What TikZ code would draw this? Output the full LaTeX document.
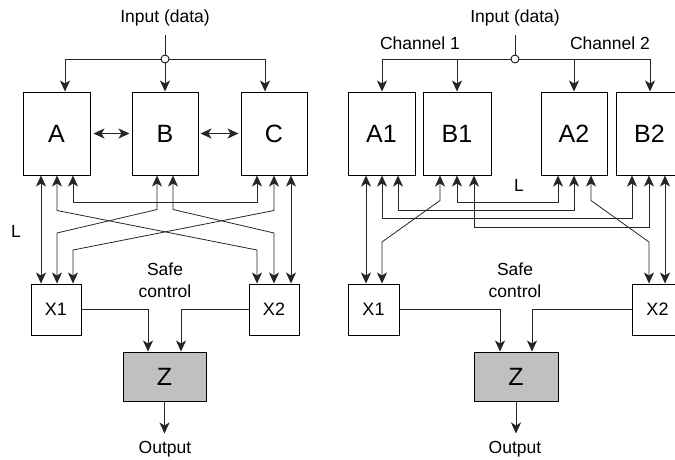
\documentclass[tikz,border=0pt]{standalone}
\usepackage{fontspec}
\setmainfont{Liberation Sans}
\usetikzlibrary{arrows.meta}
\definecolor{zgray}{RGB}{192,192,192}
\begin{document}
\begin{tikzpicture}[x=1pt,y=-1pt,
  wire/.style={line width=0.8pt, draw=black!85},
  onearrow/.style={-{Stealth[length=11pt,width=10pt,inset=3pt]}},
  twoarrow/.style={{Stealth[length=11pt,width=10pt,inset=3pt]}-{Stealth[length=11pt,width=10pt,inset=3pt]}},
  unit/.style={draw, line width=1pt, minimum width=67pt, minimum height=83pt, inner sep=0pt, font=\fontsize{25}{30}\selectfont},
  voter/.style={draw, line width=1pt, minimum width=51pt, minimum height=51pt, inner sep=0pt, font=\fontsize{18}{21}\selectfont},
  outbox/.style={draw, line width=1pt, fill=zgray, minimum width=83pt, minimum height=49pt, inner sep=0pt, font=\fontsize{25}{30}\selectfont},
  txt/.style={inner sep=0pt, font=\fontsize{17.5}{22}\selectfont, align=center},
  junction/.style={circle, draw, fill=white, line width=0.8pt, minimum size=8pt, inner sep=0pt}
]
\useasboundingbox (0,0) rectangle (675,459);

% ---------- left: triple redundancy ----------
\node[txt] (inL) at (165,18) {Input (data)};
\coordinate (srcL) at (165,35);
\node[unit] (A) at (56.5,133.5) {A};
\node[unit, minimum width=66pt] (B) at (165,133.5) {B};
\node[unit, minimum width=66pt] (C) at (274,133.5) {C};
\node[voter, minimum width=50pt] (X1) at (56,309.5) {X1};
\node[voter, minimum width=50pt] (X2) at (274,309.5) {X2};
\node[outbox] (Z) at (164.5,376.5) {Z};
\node[txt] (LL) at (16,231) {L};
\node[txt] (scL) at (165,280) {Safe\\control};
\node[txt] (outL) at (165,449) {Output};

\draw[wire] (srcL) -- (165,59);
\draw[wire,onearrow] (165,59) -| ([xshift=8.5pt]A.north);
\draw[wire,onearrow] (165,59) -- (B.north);
\draw[wire,onearrow] (165,59) -| ([xshift=-9pt]C.north);
\node[junction] (jL) at (165,59) {};

\draw[wire,twoarrow] ([xshift=3pt]A.east) -- ([xshift=-2pt]B.west);
\draw[wire,twoarrow] ([xshift=2pt]B.east) -- ([xshift=-2pt]C.west);

\draw[wire,twoarrow] ([xshift=-15.5pt]A.south) -- ([xshift=-15.5pt]A.south |- X1.north);
\draw[wire,twoarrow] ([xshift=16.5pt]A.south) -- ++(0,27) -| ([xshift=-17pt]C.south);
\draw[wire,twoarrow] ([xshift=0.5pt]A.south) -- ++(0,35) -- (257,250) -- ([xshift=-17pt]X2.north);
\draw[wire,twoarrow] ([xshift=-8pt]B.south) -- ++(0,34) -- (57,233) -- ([xshift=1pt]X1.north);
\draw[wire,twoarrow] ([xshift=8pt]B.south) -- ++(0,34) -- (274,233) -- (X2.north);
\draw[wire,twoarrow] (C.south) -- ++(0,35) -- (73,250) -- ([xshift=17pt]X1.north);
\draw[wire,twoarrow] ([xshift=17pt]C.south) -- ([xshift=17pt]X2.north);

\draw[wire,onearrow] (X1.east) -| ([xshift=-16.5pt]Z.north);
\draw[wire,onearrow] (X2.west) -| ([xshift=16.5pt]Z.north);
\draw[wire,onearrow] (Z.south) -- ++(0,32);

% ---------- right: two channels ----------
\node[txt] (inR) at (515,18) {Input (data)};
\node[txt] (ch1) at (420,43) {Channel 1};
\node[txt] (ch2) at (610,43) {Channel 2};
\coordinate (srcR) at (515,35);
\node[unit] (A1) at (381.5,133.5) {A1};
\node[unit, minimum width=68pt] (B1) at (457,133.5) {B1};
\node[unit, minimum width=66pt] (A2) at (574,133.5) {A2};
\node[unit] (B2) at (649.5,133.5) {B2};
\node[voter] (Y1) at (373.5,309.5) {X1};
\node[voter] (Y2) at (657.5,309.5) {X2};
\node[outbox, minimum width=84pt] (Z2) at (516,376.5) {Z};
\node[txt] (LR) at (519,185) {L};
\node[txt] (scR) at (515,280) {Safe\\control};
\node[txt] (outR) at (515,449) {Output};

\draw[wire] (srcR) -- (515,59);
\draw[wire,onearrow] (515,59) -| ([xshift=0.5pt]A1.north);
\draw[wire,onearrow] (515,59) -| (B1.north);
\draw[wire,onearrow] (515,59) -| (A2.north);
\draw[wire,onearrow] (515,59) -| ([xshift=0.5pt]B2.north);
\node[junction] (jR) at (515,59) {};

\draw[wire,twoarrow] ([xshift=-15.5pt]A1.south) -- ([xshift=-15.5pt]A1.south |- Y1.north);
\draw[wire,twoarrow] ([xshift=0.5pt]A1.south) -- ++(0,43) -| ([xshift=-17.5pt]B2.south);
\draw[wire,twoarrow] ([xshift=16.5pt]A1.south) -- ++(0,35) -| (A2.south);
\draw[wire,twoarrow] ([xshift=-17pt]B1.south) -- ++(0,25) -- (382,242) -- ([xshift=8.5pt]Y1.north);
\draw[wire,twoarrow] (B1.south) -- ++(0,27) -| ([xshift=-16pt]A2.south);
\draw[wire,twoarrow] ([xshift=17pt]B1.south) -- ++(0,52) -| ([xshift=-0.5pt]B2.south);
\draw[wire,twoarrow] ([xshift=17pt]A2.south) -- ++(0,25) -- (649,242) -- ([xshift=-8.5pt]Y2.north);
\draw[wire,twoarrow] ([xshift=15.5pt]B2.south) -- ([xshift=15.5pt]B2.south |- Y2.north);

\draw[wire,onearrow] (Y1.east) -| ([xshift=-16pt]Z2.north);
\draw[wire,onearrow] (Y2.west) -| ([xshift=16pt]Z2.north);
\draw[wire,onearrow] (Z2.south) -- ++(0,32);
\end{tikzpicture}
\end{document}
